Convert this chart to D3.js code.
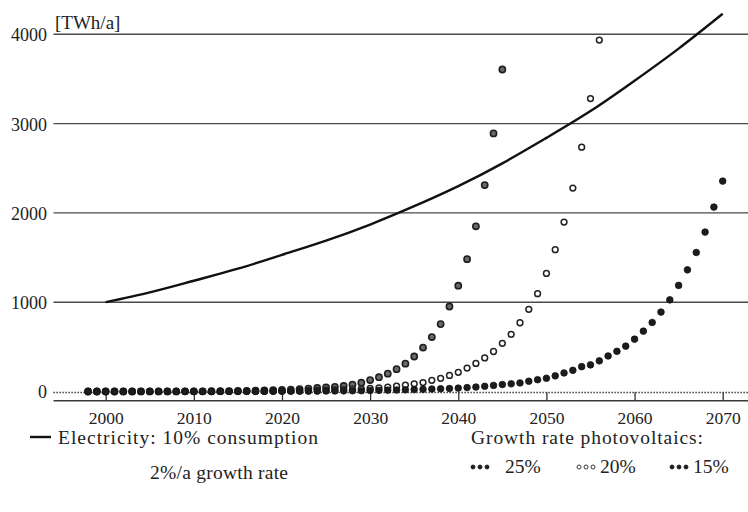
<!DOCTYPE html>
<html>
<head>
<meta charset="utf-8">
<script src="https://cdn.jsdelivr.net/npm/d3@7"></script>
<style>
  html, body { margin: 0; padding: 0; background: #fff; }
  svg { display: block; font-family: "Liberation Serif", "DejaVu Serif", serif; }
</style>
</head>
<body>
<svg id="chart" width="748" height="512"></svg>
<script>
// Electricity demand (10% of consumption, growing ~2%/a), TWh/a
const lineYears = [2000, 2005, 2010, 2015, 2020, 2025, 2030, 2035, 2040, 2045, 2050, 2055, 2060, 2065, 2070];
const electricity = [1000, 1110, 1240, 1375, 1530, 1690, 1870, 2075, 2300, 2555, 2840, 3140, 3480, 3840, 4230];

// Photovoltaic output for three growth rates, one value per year from 1998, TWh/a
const startYear = 1998;
const pv25 = [0.1, 0.1, 0.2, 0.2, 0.3, 0.4, 0.5, 0.6, 0.7, 0.9,
  1.2, 1.5, 1.8, 2.3, 2.9, 3.6, 4.5, 5.6, 7, 9,
  11, 14, 17, 21, 27, 33, 40, 45, 52, 62,
  78, 98, 128, 160, 200, 250, 312, 392, 492, 610,
  755, 952, 1185, 1482, 1850, 2312, 2890, 3606];
const pv20 = [0.1, 0.1, 0.15, 0.2, 0.2, 0.25, 0.3, 0.4, 0.45, 0.5,
  0.6, 0.75, 0.9, 1.1, 1.3, 1.6, 1.9, 2.3, 2.7, 3.3,
  4, 4.7, 6, 7, 8.5, 10, 12, 15, 18, 21,
  25, 30, 34, 41, 49, 60, 72, 86, 100, 125,
  148, 180, 215, 262, 314, 376, 448, 540, 640, 770,
  920, 1096, 1322, 1588, 1897, 2278, 2736, 3280, 3935];
const pv15 = [0.1, 0.1, 0.15, 0.15, 0.2, 0.2, 0.25, 0.3, 0.3, 0.35,
  0.4, 0.5, 0.55, 0.6, 0.7, 0.8, 1, 1.1, 1.3, 1.5,
  1.7, 2, 2.3, 2.6, 3, 3.5, 4, 5, 6, 7,
  8, 9, 11, 13, 15, 17, 19, 22, 25, 28,
  31, 34, 38, 44, 50, 58, 68, 78, 86, 96,
  115, 132, 148, 175, 208, 237, 278, 298, 343, 398,
  450, 508, 586, 676, 773, 889, 1026, 1188, 1362, 1557,
  1785, 2065, 2356];

const xTicks = [2000, 2010, 2020, 2030, 2040, 2050, 2060, 2070];
const yTicks = [0, 1000, 2000, 3000, 4000];
const unitLabel = "[TWh/a]";

const svg = d3.select("#chart");
const W = 748;
const plotLeft = 53.5;

const x = d3.scaleLinear().domain([2000, 2070]).range([105.7, 722.7]);
const y = d3.scaleLinear().domain([0, 4000]).range([391.5, 34.3]);
const axisY = 400.7;

// horizontal grid lines
svg.append("g")
  .selectAll("line")
  .data(yTicks.filter(d => d > 0))
  .join("line")
  .attr("x1", plotLeft).attr("x2", W)
  .attr("y1", d => y(d)).attr("y2", d => y(d))
  .attr("stroke", "#4a4a4a").attr("stroke-width", 1.4);

// dotted zero line
svg.append("line")
  .attr("x1", plotLeft).attr("x2", W)
  .attr("y1", y(0) + 1).attr("y2", y(0) + 1)
  .attr("stroke", "#111").attr("stroke-width", 1.3)
  .attr("stroke-dasharray", "1.2,1.8");

// y axis labels
const yAxis = svg.append("g")
  .attr("transform", `translate(${plotLeft},0)`)
  .call(d3.axisLeft(y).tickValues(yTicks).tickSize(0).tickPadding(6.5).tickFormat(d3.format("d")));
yAxis.select(".domain").remove();
yAxis.selectAll("text").attr("font-size", 18).attr("fill", "#222")
  .attr("font-family", "Liberation Serif, serif").attr("dy", "0.36em");

svg.append("text")
  .attr("x", 55).attr("y", 28.5)
  .attr("font-size", 19).attr("fill", "#222")
  .text(unitLabel);

// x axis
svg.append("line")
  .attr("x1", plotLeft).attr("x2", W)
  .attr("y1", axisY).attr("y2", axisY)
  .attr("stroke", "#3a3a3a").attr("stroke-width", 1.5);
const xAxis = svg.append("g")
  .attr("transform", `translate(0,${axisY})`)
  .call(d3.axisBottom(x).tickValues(xTicks).tickSizeInner(-8.5).tickSizeOuter(0).tickPadding(11).tickFormat(d3.format("d")));
xAxis.select(".domain").remove();
xAxis.selectAll(".tick line").attr("stroke", "#333").attr("stroke-width", 1.3);
xAxis.selectAll("text").attr("font-size", 17.5).attr("fill", "#222")
  .attr("font-family", "Liberation Serif, serif");

// electricity demand curve
const line = d3.line()
  .x((d, i) => x(lineYears[i]))
  .y(d => y(d))
  .curve(d3.curveNatural);
svg.append("path")
  .datum(electricity)
  .attr("d", line)
  .attr("fill", "none")
  .attr("stroke", "#111")
  .attr("stroke-width", 2.4);

// photovoltaic series
const series = [
  { values: pv25, r: 3.1, fill: "#6a6a6a", stroke: "#1e1e1e", sw: 1.6 },
  { values: pv20, r: 2.9, fill: "#ffffff", stroke: "#222", sw: 1.5 },
  { values: pv15, r: 3.3, fill: "#1c1c1c", stroke: "#111", sw: 0.8 }
];
series.forEach(s => {
  svg.append("g")
    .selectAll("circle")
    .data(s.values)
    .join("circle")
    .attr("cx", (d, i) => x(startYear + i))
    .attr("cy", d => y(d))
    .attr("r", s.r)
    .attr("fill", s.fill)
    .attr("stroke", s.stroke)
    .attr("stroke-width", s.sw);
});

// legend
const legend = svg.append("g").attr("font-size", 19.5).attr("fill", "#222");
legend.append("line")
  .attr("x1", 30).attr("x2", 51).attr("y1", 437).attr("y2", 437)
  .attr("stroke", "#111").attr("stroke-width", 2.4);
legend.append("text").attr("x", 58).attr("y", 444)
  .attr("textLength", 260).attr("lengthAdjust", "spacing")
  .text("Electricity: 10% consumption");
legend.append("text").attr("x", 150).attr("y", 479)
  .attr("textLength", 138).attr("lengthAdjust", "spacing")
  .text("2%/a growth rate");
legend.append("text").attr("x", 471).attr("y", 444)
  .attr("textLength", 232).attr("lengthAdjust", "spacing")
  .text("Growth rate photovoltaics:");

const legendItems = [
  { label: "25%", x: 473, tx: 505, fill: "#1c1c1c" },
  { label: "20%", x: 579, tx: 600, fill: "#fff" },
  { label: "15%", x: 672, tx: 693, fill: "#1c1c1c" }
];
legendItems.forEach(item => {
  [0, 1, 2].forEach(k => {
    legend.append("circle")
      .attr("cx", item.x + k * 7).attr("cy", 467)
      .attr("r", 2)
      .attr("fill", item.fill)
      .attr("stroke", "#222").attr("stroke-width", 0.9);
  });
  legend.append("text").attr("x", item.tx).attr("y", 473).text(item.label);
});
</script>
</body>
</html>
